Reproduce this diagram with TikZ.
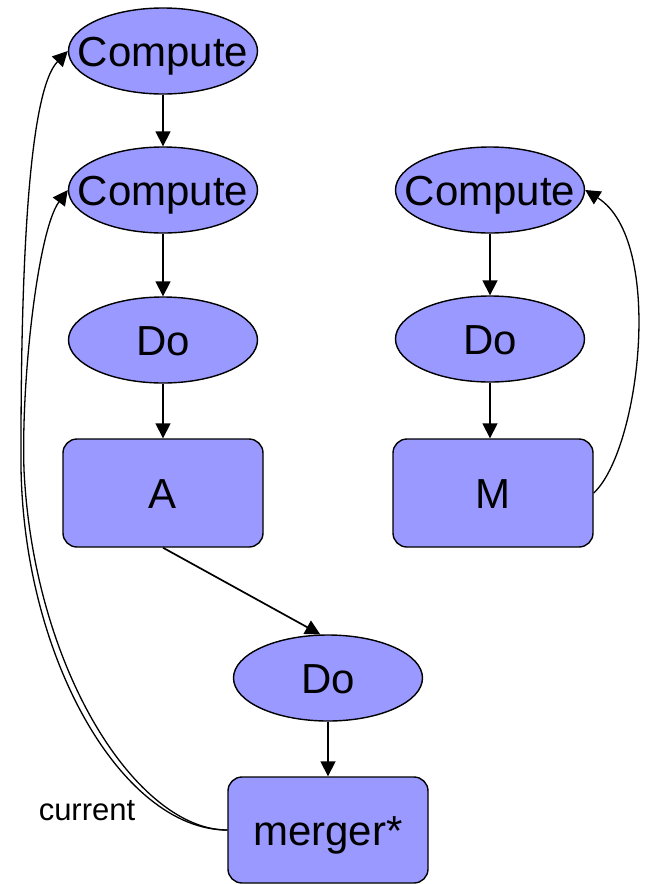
\documentclass[tikz,border=0pt]{standalone}
\usepackage{fontspec}
\setmainfont{Liberation Sans}
\usetikzlibrary{shapes.geometric,arrows.meta}
\definecolor{nodefill}{RGB}{153,153,255}
\begin{document}
\begin{tikzpicture}[x=1pt,y=-1pt,
  every node/.style={inner sep=0pt, font=\fontsize{42}{48}\selectfont, text height=30pt, text depth=0pt},
  oval/.style={ellipse, draw, fill=nodefill, line width=1.4pt, inner xsep=-25pt, minimum width=189pt, minimum height=86pt},
  box/.style={rectangle, rounded corners=14pt, draw, fill=nodefill, line width=1.4pt, minimum width=200pt, minimum height=108pt},
  link/.style={line width=1.7pt, -{Triangle[length=15pt,width=15pt]}},
  loop/.style={line width=1.3pt, -{Triangle[length=15pt,width=15pt]}}
]
\useasboundingbox (0,0) rectangle (646,884);

% left chain
\node[oval] (c1) at (163,51) {Compute};
\node[oval] (c2) at (163,190) {Compute};
\node[oval] (d1) at (163,340) {Do};
\node[box]  (a)  at (163,493) {A};

% right chain
\node[oval] (rc) at (490,190) {Compute};
\node[oval] (rd) at (490,339) {Do};
\node[box]  (m)  at (493,493) {M};

% merge stage
\node[oval] (d3) at (328,678) {Do};
\node[box, minimum height=106pt] (mg) at (328,830) {merger*};

\node[font=\fontsize{31}{36}\selectfont, text height=, text depth=, anchor=base] (cur) at (87,820) {current};

% straight connectors
\draw[link] (c1.south) -- (c2.north);
\draw[link] (c2.south) -- (d1.north);
\draw[link] (d1.south) -- (a.north);
\draw[link] (rc.south) -- (rd.north);
\draw[link] (rd.south) -- (rd.south |- m.north);
\draw[link] (a.south) -- (d3.100);
\draw[link] (d3.south) -- (mg.north);

% feedback loops
\draw[loop] (m.east) .. controls (640,450) and (665,240) .. (rc.east);
\draw[loop] (mg.west) .. controls (120,830) and (18,650) .. (21,450)
            .. controls (21,250) and (30,90) .. (c1.west);
\draw[loop] (mg.west) .. controls (138,830) and (34,672) .. (24,470)
            .. controls (21,380) and (38,230) .. (c2.west);
\end{tikzpicture}
\end{document}
